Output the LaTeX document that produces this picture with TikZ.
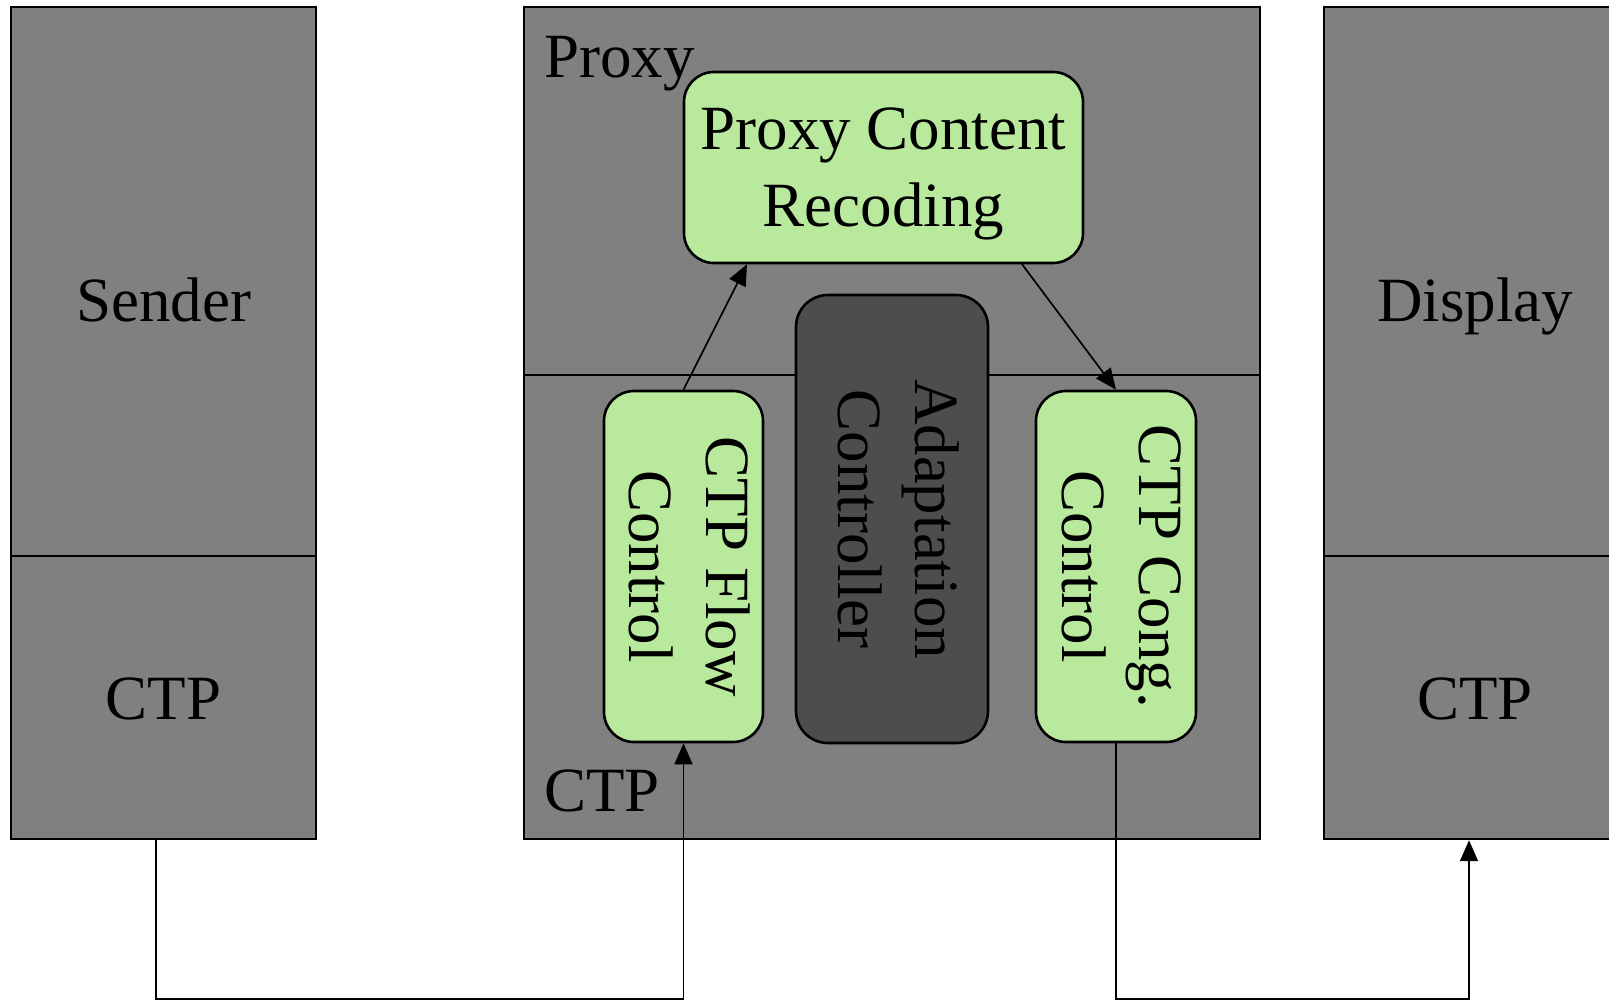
\documentclass[tikz,border=0pt]{standalone}
\usepackage{fontspec}
\setmainfont{Liberation Serif}
\usepackage{graphicx}
\usetikzlibrary{arrows.meta,calc}
\definecolor{boxgray}{HTML}{808080}
\definecolor{boxgreen}{HTML}{B9E99C}
\definecolor{boxdark}{HTML}{4D4D4D}
\begin{document}
\begin{tikzpicture}[x=1pt,y=-1pt,font=\fontsize{63}{77}\selectfont,
  blk/.style={draw, line width=2.4pt, fill=boxgray, inner sep=0pt, text height=43pt, text depth=0pt},
  rbox/.style={draw, line width=2.6pt, rounded corners=30pt, inner sep=0pt, align=center},
  conn/.style={line width=1.7pt, -{Triangle[length=21pt,width=18pt]}}]
\useasboundingbox (0,0) rectangle (1609,999);
\clip (0,0) rectangle (1609,999);
% Sender
\node[blk, minimum width=305pt, minimum height=585pt] (stop) at (163.5,299.5) {Sender};
\node[blk, minimum width=305pt, minimum height=283pt] (sbot) at (163.5,697.5) {CTP};
% Proxy
\node[blk, minimum width=736pt, minimum height=368pt] (ptop) at (892,191) {};
\node[blk, minimum width=736pt, minimum height=464pt] (pbot) at (892,607) {};
% Display
\node[blk, minimum width=302pt, minimum height=585pt] (dtop) at (1475,299.5) {Display};
\node[blk, minimum width=302pt, minimum height=283pt] (dbot) at (1475,697.5) {CTP};
% inner boxes
\node[rbox, fill=boxgreen, minimum width=399pt, minimum height=191pt, text height=135.9pt, text depth=18.1pt] (pcr) at (883.5,167.5)
  {\begin{tabular}[b]{@{}c@{}}Proxy Content\\Recoding\end{tabular}};
\node[rbox, fill=boxdark, rounded corners=32pt, minimum width=192pt, minimum height=448pt] (ac) at (892,519)
  {\rotatebox{-90}{\begin{tabular}{@{}c@{}}Adaptation\\Controller\end{tabular}}};
\node[rbox, fill=boxgreen, minimum width=159pt, minimum height=351pt] (fc) at (683.5,566.5)
  {\rotatebox{-90}{\begin{tabular}{@{}c@{}}CTP Flow\\Control\end{tabular}}};
\node[rbox, fill=boxgreen, minimum width=160pt, minimum height=351pt] (cc) at (1116,566.5)
  {\rotatebox{-90}{\begin{tabular}{@{}c@{}}CTP Cong.\\Control\end{tabular}}};
% labels
\node[anchor=base west, inner sep=0pt] (plabel) at (544,77) {Proxy};
\node[anchor=base west, inner sep=0pt] (clabel) at (544,811) {CTP};
% connectors
\draw[conn] (fc.north) -- ($(pcr.south west)!0.16!(pcr.south east)$);
\draw[conn] ($(pcr.south west)!0.845!(pcr.south east)$) -- (cc.north);
\draw[conn] ($(sbot.south)+(-7.5,0)$) -- ++(0,159) -| (fc.south);
\draw[conn] (cc.south) -- ++(0,256) -| ($(dbot.south)+(-6,0)$);
\end{tikzpicture}
\end{document}
